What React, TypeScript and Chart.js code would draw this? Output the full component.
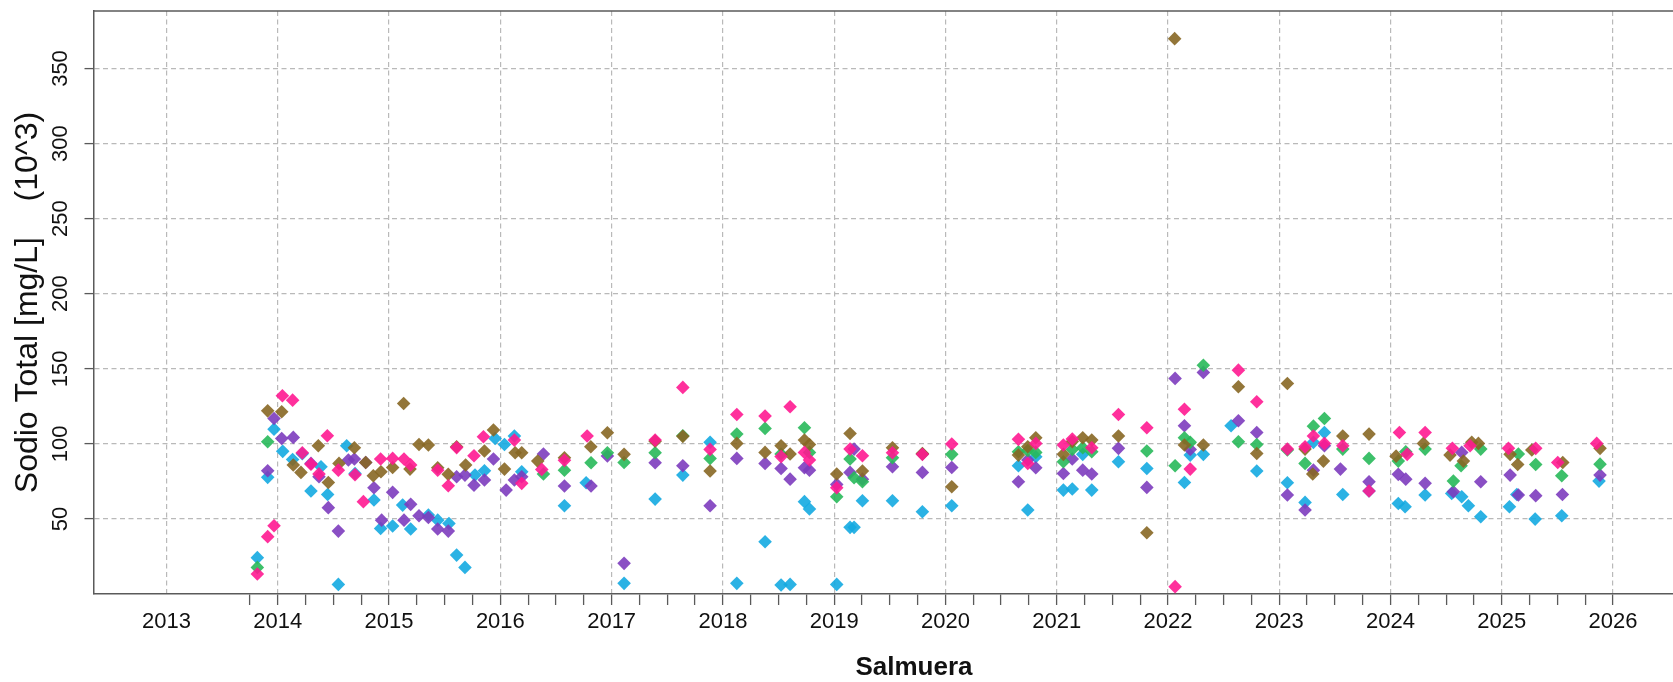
import React, { useEffect, useRef } from 'react';
import { Chart, registerables } from 'chart.js';

Chart.register(...registerables);

// ---- Data (decimal year, value in 10^3 mg/L) ----
const pinkDates = [2013.816, 2013.909, 2013.966, 2014.041, 2014.133, 2014.22, 2014.298, 2014.37, 2014.445, 2014.544, 2014.694, 2014.769, 2014.924, 2015.032, 2015.134, 2015.194, 2015.437, 2015.532, 2015.607, 2015.763, 2015.848, 2016.126, 2016.192, 2016.372, 2016.576, 2016.78, 2017.391, 2017.64, 2017.885, 2018.125, 2018.379, 2018.523, 2018.604, 2018.733, 2018.778, 2019.023, 2019.143, 2019.254, 2019.524, 2019.793, 2020.057, 2020.656, 2020.74, 2020.812, 2021.06, 2021.14, 2021.315, 2021.555, 2021.81, 2022.064, 2022.148, 2022.2, 2022.633, 2022.798, 2023.073, 2023.232, 2023.307, 2023.406, 2023.571, 2023.807, 2024.08, 2024.15, 2024.311, 2024.556, 2024.715, 2025.06, 2025.305, 2025.503, 2025.853];
const pinkValues = [13.3, 38.2, 45.5, 132.0, 129.1, 94.0, 86.5, 80.0, 105.4, 82.5, 79.5, 61.5, 89.9, 90.3, 89.9, 86.0, 82.5, 72.1, 97.5, 92.1, 104.7, 102.5, 73.7, 83.0, 89.0, 105.2, 102.5, 137.6, 96.3, 119.6, 118.5, 91.5, 124.7, 94.3, 89.2, 70.8, 96.5, 92.1, 94.1, 93.0, 99.9, 103.0, 87.0, 100.3, 99.2, 103.2, 97.4, 119.6, 110.7, 4.9, 123.1, 83.2, 149.1, 128.0, 96.5, 98.1, 105.2, 100.3, 98.7, 68.6, 107.6, 93.0, 107.6, 97.0, 98.7, 97.0, 97.0, 87.6, 100.3];

const brownDates = [2013.909, 2014.035, 2014.139, 2014.208, 2014.364, 2014.454, 2014.55, 2014.688, 2014.79, 2014.858, 2014.927, 2015.032, 2015.131, 2015.188, 2015.269, 2015.353, 2015.437, 2015.532, 2015.607, 2015.688, 2015.857, 2015.938, 2016.037, 2016.133, 2016.192, 2016.336, 2016.576, 2016.813, 2016.962, 2017.112, 2017.391, 2017.64, 2017.885, 2018.125, 2018.379, 2018.523, 2018.604, 2018.733, 2018.778, 2019.023, 2019.143, 2019.254, 2019.524, 2019.793, 2020.057, 2020.656, 2020.74, 2020.812, 2021.06, 2021.14, 2021.234, 2021.315, 2021.555, 2021.81, 2022.06, 2022.148, 2022.318, 2022.633, 2022.798, 2023.073, 2023.232, 2023.301, 2023.397, 2023.571, 2023.807, 2024.05, 2024.296, 2024.535, 2024.655, 2024.73, 2024.79, 2025.075, 2025.143, 2025.27, 2025.548, 2025.883];
const brownValues = [122.0, 121.4, 85.9, 81.0, 98.7, 74.3, 87.0, 97.4, 87.6, 78.8, 81.4, 84.3, 126.9, 83.2, 99.6, 99.2, 84.1, 79.7, 98.1, 85.9, 95.2, 109.2, 83.2, 94.1, 94.1, 88.5, 90.7, 98.1, 107.4, 93.0, 101.8, 105.0, 81.9, 100.3, 94.3, 98.7, 93.2, 102.5, 99.6, 79.9, 106.9, 81.9, 97.4, 93.5, 71.4, 92.5, 98.1, 104.1, 93.0, 101.5, 104.1, 102.5, 105.2, 40.8, 369.9, 99.2, 99.2, 138.0, 93.6, 140.2, 96.5, 79.9, 88.5, 105.2, 106.5, 91.8, 100.3, 92.5, 88.5, 101.0, 100.3, 93.0, 86.3, 95.9, 87.6, 97.0];

const greenDates = [2013.816, 2013.909, 2016.387, 2016.576, 2016.815, 2016.962, 2017.112, 2017.391, 2017.64, 2017.885, 2018.125, 2018.379, 2018.523, 2018.733, 2018.778, 2019.023, 2019.143, 2019.179, 2019.254, 2019.524, 2019.793, 2020.057, 2020.656, 2020.74, 2020.812, 2021.06, 2021.14, 2021.234, 2021.315, 2021.81, 2022.064, 2022.148, 2022.2, 2022.318, 2022.633, 2022.798, 2023.073, 2023.232, 2023.307, 2023.406, 2023.571, 2023.807, 2024.07, 2024.137, 2024.311, 2024.565, 2024.634, 2024.811, 2025.149, 2025.305, 2025.539, 2025.883];
const greenValues = [17.7, 101.4, 79.9, 82.5, 87.4, 94.0, 87.6, 94.1, 105.4, 90.3, 106.5, 110.3, 93.2, 110.7, 94.3, 64.8, 89.9, 77.4, 74.8, 90.7, 93.2, 93.0, 94.7, 95.5, 94.3, 88.1, 96.3, 97.4, 94.7, 95.2, 85.4, 104.1, 101.0, 152.4, 101.4, 99.6, 95.9, 87.0, 111.8, 116.9, 96.5, 90.3, 88.5, 94.7, 96.5, 75.2, 85.4, 96.5, 93.2, 86.3, 78.8, 86.5];

const purpleDates = [2013.909, 2013.966, 2014.035, 2014.139, 2014.298, 2014.37, 2014.454, 2014.544, 2014.634, 2014.688, 2014.79, 2014.864, 2014.933, 2015.032, 2015.134, 2015.194, 2015.269, 2015.353, 2015.437, 2015.532, 2015.607, 2015.682, 2015.763, 2015.857, 2015.938, 2016.052, 2016.126, 2016.192, 2016.387, 2016.576, 2016.815, 2016.962, 2017.112, 2017.391, 2017.64, 2017.885, 2018.125, 2018.379, 2018.523, 2018.604, 2018.733, 2018.778, 2019.023, 2019.143, 2019.179, 2019.254, 2019.524, 2019.793, 2020.057, 2020.656, 2020.74, 2020.812, 2021.06, 2021.14, 2021.234, 2021.315, 2021.555, 2021.81, 2022.064, 2022.148, 2022.2, 2022.318, 2022.633, 2022.798, 2023.073, 2023.232, 2023.307, 2023.406, 2023.55, 2023.807, 2024.07, 2024.137, 2024.311, 2024.565, 2024.64, 2024.811, 2025.075, 2025.149, 2025.305, 2025.545, 2025.883];
const purpleValues = [82.1, 116.9, 103.6, 104.3, 87.0, 78.1, 57.5, 41.9, 89.2, 89.9, 87.6, 70.8, 49.2, 67.7, 49.2, 59.7, 52.1, 51.0, 43.3, 41.9, 78.1, 79.2, 72.5, 75.9, 89.9, 69.2, 75.9, 78.1, 93.2, 71.9, 71.9, 91.9, 20.4, 87.4, 85.4, 58.8, 90.3, 87.0, 83.6, 76.5, 84.1, 82.5, 73.0, 81.0, 96.5, 76.5, 84.8, 81.0, 84.3, 74.8, 89.2, 84.1, 80.3, 89.9, 82.5, 79.9, 97.0, 71.0, 143.6, 112.1, 96.3, 147.6, 115.4, 107.6, 65.9, 55.9, 82.5, 98.7, 83.2, 74.8, 79.7, 76.5, 73.7, 68.1, 94.3, 74.8, 79.2, 65.9, 65.5, 66.3, 79.2];

const cyanDates = [2013.816, 2013.909, 2013.966, 2014.044, 2014.133, 2014.22, 2014.298, 2014.388, 2014.448, 2014.544, 2014.619, 2014.694, 2014.864, 2014.924, 2015.032, 2015.122, 2015.194, 2015.353, 2015.437, 2015.538, 2015.607, 2015.682, 2015.772, 2015.857, 2015.953, 2016.037, 2016.126, 2016.192, 2016.576, 2016.771, 2017.112, 2017.391, 2017.64, 2017.885, 2018.125, 2018.379, 2018.523, 2018.604, 2018.733, 2018.778, 2019.023, 2019.143, 2019.179, 2019.254, 2019.524, 2019.793, 2020.057, 2020.656, 2020.74, 2020.812, 2021.06, 2021.14, 2021.234, 2021.315, 2021.555, 2021.81, 2022.148, 2022.2, 2022.318, 2022.567, 2022.798, 2023.073, 2023.232, 2023.307, 2023.406, 2023.571, 2023.807, 2024.07, 2024.131, 2024.311, 2024.55, 2024.64, 2024.7, 2024.811, 2025.069, 2025.135, 2025.3, 2025.539, 2025.874];
const cyanValues = [24.2, 77.7, 109.8, 95.0, 89.6, 93.4, 68.6, 84.8, 66.3, 6.4, 98.7, 80.3, 62.6, 43.7, 45.3, 59.2, 43.3, 52.6, 49.2, 47.0, 25.9, 17.7, 79.2, 82.1, 103.6, 99.6, 105.2, 81.4, 58.8, 74.1, 7.1, 63.2, 79.2, 101.0, 7.1, 34.8, 6.0, 6.4, 61.5, 56.6, 6.4, 44.4, 44.4, 62.1, 62.1, 54.8, 58.8, 85.4, 55.9, 91.4, 69.2, 69.9, 93.0, 69.2, 88.1, 83.6, 74.3, 92.5, 93.0, 112.1, 81.9, 74.1, 61.0, 101.0, 107.6, 66.3, 68.6, 60.3, 58.1, 65.9, 67.0, 64.8, 58.8, 51.5, 58.1, 66.3, 49.9, 52.1, 75.2];

const yTickValues = [50, 100, 150, 200, 250, 300, 350];
const yearLabels = [2013, 2014, 2015, 2016, 2017, 2018, 2019, 2020, 2021, 2022, 2023, 2024, 2025, 2026];
const firstMinorTick = 2013.75;
const lastMinorTick = 2026;

const X_MIN = 2012.348;
const X_MAX = 2027.087;
const Y_MIN = 0;
const Y_MAX = 388.3;

const FONT = "'Liberation Sans', Arial, sans-serif";
const AXIS_COLOR = '#5a5a5a';
const GRID_COLOR = '#b9b9b9';
const CLEAR = 'rgba(0,0,0,0)';

const seriesDefs = [
  { label: 'Serie 1', dates: pinkDates, values: pinkValues, color: 'rgba(255, 25, 145, 0.9)' },
  { label: 'Serie 2', dates: brownDates, values: brownValues, color: 'rgba(135, 103, 35, 0.9)' },
  { label: 'Serie 3', dates: greenDates, values: greenValues, color: 'rgba(40, 185, 90, 0.9)' },
  { label: 'Serie 4', dates: purpleDates, values: purpleValues, color: 'rgba(125, 60, 190, 0.9)' },
  { label: 'Serie 5', dates: cyanDates, values: cyanValues, color: 'rgba(20, 170, 225, 0.9)' },
];

const frameTop = {
  id: 'frameTop',
  afterDraw(chart: any) {
    const { ctx, chartArea } = chart;
    ctx.save();
    ctx.strokeStyle = AXIS_COLOR;
    ctx.lineWidth = 1.5;
    ctx.beginPath();
    ctx.moveTo(chartArea.left - 0.75, chartArea.top);
    ctx.lineTo(chartArea.right, chartArea.top);
    ctx.stroke();
    ctx.restore();
  },
};

const zeroPadding = (scale: any) => {
  scale.paddingTop = 0;
  scale.paddingBottom = 0;
  scale.paddingLeft = 0;
  scale.paddingRight = 0;
};

export default function App() {
  const ref = useRef<HTMLCanvasElement | null>(null);

  useEffect(() => {
    if (!ref.current) return;
    const xTicks: number[] = [yearLabels[0]];
    for (let v = firstMinorTick; v <= lastMinorTick + 1e-9; v += 0.25) xTicks.push(v);

    const chart = new Chart(ref.current, {
      type: 'scatter',
      data: {
        datasets: seriesDefs.map((s) => ({
          label: s.label,
          data: s.dates.map((d, i) => ({ x: d, y: s.values[i] })),
          backgroundColor: s.color,
          borderColor: s.color,
          pointStyle: 'rectRot',
          pointRadius: 6.8,
          pointBorderWidth: 0,
          borderWidth: 0,
        })),
      },
      options: {
        animation: false,
        responsive: false,
        events: [],
        layout: { padding: { left: 0, top: 11, right: 16, bottom: 0 } },
        plugins: { legend: { display: false }, tooltip: { enabled: false } },
        scales: {
          x: {
            type: 'linear',
            min: X_MIN,
            max: X_MAX,
            afterBuildTicks: (scale: any) => {
              scale.ticks = xTicks.map((v) => ({ value: v }));
            },
            afterFit: (scale: any) => {
              scale.height = 88;
              zeroPadding(scale);
            },
            ticks: {
              autoSkip: false,
              maxRotation: 0,
              minRotation: 0,
              padding: 4,
              color: '#111',
              font: { family: FONT, size: 22 },
              callback: (v: any) => (Number.isInteger(v) && yearLabels.includes(v) ? String(v) : ''),
            },
            grid: {
              color: (c: any) => (c.tick && Number.isInteger(c.tick.value) ? GRID_COLOR : CLEAR),
              lineWidth: 1.2,
              drawTicks: true,
              tickLength: 11,
              tickWidth: 1.3,
              tickColor: (c: any) => (c.tick && c.tick.value === yearLabels[0] ? CLEAR : AXIS_COLOR),
            },
            border: { display: true, color: AXIS_COLOR, width: 1.5, dash: [5, 3.5] },
            title: {
              display: true,
              text: 'Salmuera',
              color: '#111',
              font: { family: FONT, size: 26, weight: 'bold', lineHeight: 1 },
              padding: { top: 0, bottom: 0.7 },
            },
          },
          y: {
            type: 'linear',
            min: Y_MIN,
            max: Y_MAX,
            afterBuildTicks: (scale: any) => {
              scale.ticks = yTickValues.map((v) => ({ value: v }));
            },
            afterFit: (scale: any) => {
              scale.width = 94;
              zeroPadding(scale);
            },
            ticks: {
              autoSkip: false,
              minRotation: 90,
              maxRotation: 90,
              crossAlign: 'center',
              padding: 5.5,
              color: '#111',
              font: { family: FONT, size: 22 },
              callback: (v: any) => String(v),
            },
            grid: {
              color: GRID_COLOR,
              lineWidth: 1.2,
              drawTicks: true,
              tickLength: 9.5,
              tickWidth: 1.3,
              tickColor: AXIS_COLOR,
            },
            border: { display: true, color: AXIS_COLOR, width: 1.5, dash: [5, 3.5] },
            title: {
              display: true,
              text: 'Sodio Total [mg/L]    (10^3)',
              color: '#111',
              font: { family: FONT, size: 32 },
              padding: { top: 8.5, bottom: 0 },
            },
          },
        },
      },
      plugins: [frameTop],
    } as any);

    return () => chart.destroy();
  }, []);

  return (
    <div
      style={{
        position: 'fixed',
        left: 0,
        top: 0,
        width: 1673,
        height: 682,
        overflow: 'hidden',
        background: '#fff',
      }}
    >
      <canvas ref={ref} width={1750} height={682} style={{ width: 1750, height: 682, display: 'block' }} />
    </div>
  );
}
